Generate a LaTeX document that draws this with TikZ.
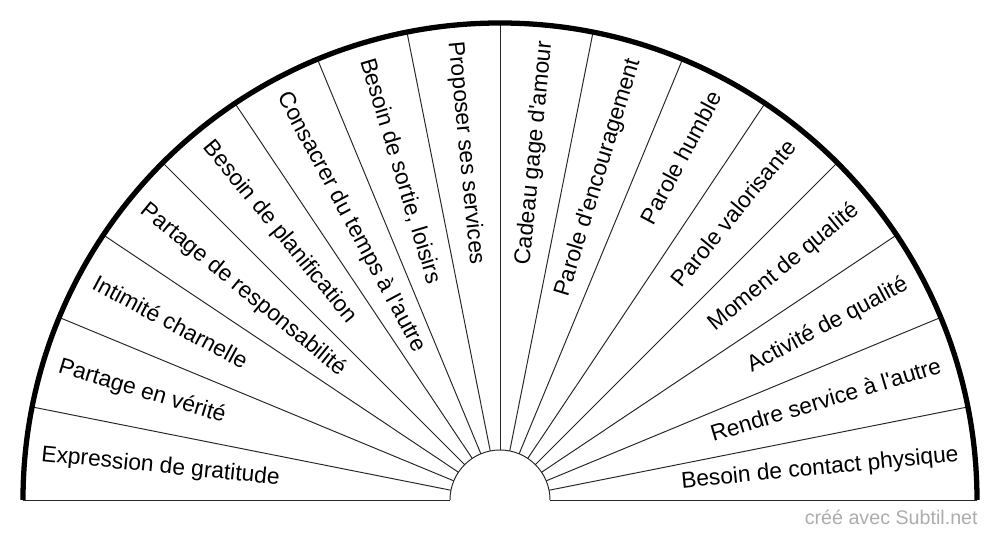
\documentclass[tikz,border=0pt]{standalone}
\usepackage{fontspec}
\setmainfont{Liberation Sans}
\usepackage{tikz}
\usetikzlibrary{calc}
\newcommand{\q}{\textquotesingle}
\tikzstyle{tsSpoke} = [
    draw=black!85,
    line width=0.55pt
]
\tikzstyle{tsRim} = [
    draw=black,
    line width=3pt
]
\tikzstyle{tsLabel} = [
    text=black,
    font=\fontsize{12.95}{15}\selectfont,
    inner sep=0pt,
    text height=0.72em,
    text depth=0pt
]
\tikzstyle{tsLabelRight} = [
    tsLabel,
    anchor=east
]
\tikzstyle{tsLabelLeft} = [
    tsLabel,
    anchor=west
]
\tikzstyle{tsCredit} = [
    text=black!32,
    font=\fontsize{11.2}{13}\selectfont,
    inner sep=0pt,
    anchor=base east
]

\begin{document}
\begin{tikzpicture}

    \useasboundingbox (-10,-0.8) rectangle (10,10);
    \fill[white] (-10,-0.8) rectangle (10,10);

    % spokes
    \foreach \a in {11.25,22.5,...,168.75}
        \draw[tsSpoke] (\a:1) -- (\a:9.54);
    \draw[tsSpoke] (-9.54,0) -- (-1,0);
    \draw[tsSpoke] (1,0) -- (9.54,0);
    \draw[tsSpoke] (1,0) arc (0:180:1);
    \draw[tsRim] (9.54,0) arc (0:180:9.54);

    % right half
    \foreach \i/\txt in {1/Besoin de contact physique,
                         2/Rendre service à l\q autre,
                         3/Activité de qualité,
                         4/Moment de qualité,
                         5/Parole valorisante,
                         6/Parole humble,
                         7/Parole d\q encouragement,
                         8/Cadeau gage d\q amour}
        \node[tsLabelRight, rotate={(\i-0.5)*11.25}] (lbl\i) at ({(\i-0.5)*11.25}:9.22) {\txt};

    % left half
    \foreach \i/\txt in {9/Proposer ses services,
                         10/{Besoin de sortie, loisirs},
                         11/Consacrer du temps à l\q autre,
                         12/Besoin de planification,
                         13/Partage de responsabilité,
                         14/Intimité charnelle,
                         15/Partage en vérité,
                         16/Expression de gratitude}
        \node[tsLabelLeft, rotate={(\i-0.5)*11.25-180}] (lbl\i) at ({(\i-0.5)*11.25}:9.22) {\txt};

    \node[tsCredit] (credit) at (9.56,-0.5) {créé avec Subtil.net};

\end{tikzpicture}
\end{document}
